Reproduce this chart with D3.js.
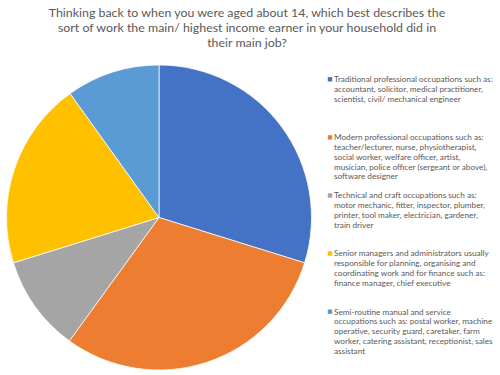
<!DOCTYPE html>
<html>
<head>
<meta charset="utf-8">
<script src="https://cdn.jsdelivr.net/npm/d3@7"></script>
<style>
html,body{margin:0;padding:0;background:#fff;}
svg{display:block;}
</style>
</head>
<body>
<svg id="chart" width="500" height="375"></svg>
<script>
const titleLines = [
  "Thinking back to when you were aged about 14, which best describes the",
  "sort of work the main/ highest income earner in your household did in",
  "their main job?"
];
const categories = [
  ["Traditional professional occupations such as:", "accountant, solicitor, medical practitioner,", "scientist, civil/ mechanical engineer"],
  ["Modern professional occupations such as:", "teacher/lecturer, nurse, physiotherapist,", "social worker, welfare officer, artist,", "musician, police officer (sergeant or above),", "software designer"],
  ["Technical and craft occupations such as:", "motor mechanic, fitter, inspector, plumber,", "printer, tool maker, electrician, gardener,", "train driver"],
  ["Senior managers and administrators usually", "responsible for planning, organising and", "coordinating work and for finance such as:", "finance manager, chief executive"],
  ["Semi-routine manual and service", "occupations such as: postal worker, machine", "operative, security guard, caretaker, farm", "worker, catering assistant, receptionist, sales", "assistant"]
];
const values = [29.8, 30.2, 10.2, 19.9, 9.9];
const colors = ["#4472C4", "#ED7D31", "#A5A5A5", "#FFC000", "#5B9BD5"];

const svg = d3.select("#chart");
const font = "Lato, 'Open Sans', sans-serif";

// Title
const title = svg.append("g").attr("fill", "#595959").attr("font-family", font);
const tl = title.selectAll("text").data(titleLines).join("text")
  .attr("x", 247).attr("y", (d, i) => 17.3 + i * 15)
  .attr("text-anchor", "middle")
  .attr("font-size", 14)
  .text(d => d);
// fit font size to reference width of first line
const w0 = tl.node().getComputedTextLength();
tl.attr("font-size", 14 * 397 / w0);

// Pie
const cx = 159, cy = 217.5, r = 152.5;
const pie = d3.pie().sort(null).value(d => d);
const arc = d3.arc().innerRadius(0).outerRadius(r);
svg.append("g").attr("transform", `translate(${cx},${cy})`)
  .selectAll("path").data(pie(values)).join("path")
  .attr("d", arc)
  .attr("fill", (d, i) => colors[i])
  .attr("stroke", "#fff")
  .attr("stroke-width", 0.75);

// Legend
const ly = d3.scaleLinear().domain([0, categories.length - 1]).range([79.3, 311.7]);
const lineH = 9.8;
const legend = svg.append("g").attr("font-family", font).attr("fill", "#595959");
const items = legend.selectAll("g").data(categories).join("g")
  .attr("transform", (d, i) => `translate(0,${ly(i)})`);
items.append("rect")
  .attr("x", 327.8).attr("y", -2.2).attr("width", 4.4).attr("height", 4.4)
  .attr("fill", (d, i) => colors[i]);
const txt = items.selectAll("text").data(d => d).join("text")
  .attr("x", 334).attr("y", (d, i) => i * lineH)
  .attr("dy", "0.35em")
  .attr("font-size", 8)
  .text(d => d);
const refW = txt.filter(d => d === categories[0][0]).node().getComputedTextLength();
txt.attr("font-size", 8 * 159 / refW);
</script>
</body>
</html>
